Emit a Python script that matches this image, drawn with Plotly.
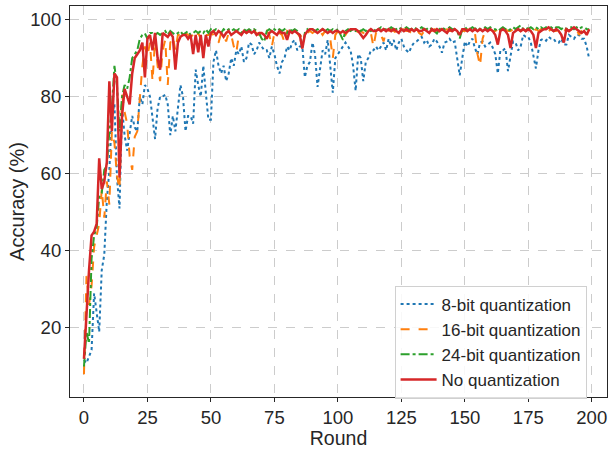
import plotly.graph_objects as go

rounds = list(range(200))

acc_8bit = [
    11.7, 10.9, 12.6, 14.3, 29, 24, 19, 35, 39, 53,
    61, 75, 78, 59, 51, 77, 70, 66, 71, 75,
    72, 71, 80, 78, 83, 82, 80, 75, 69, 77,
    80, 80, 80.5, 78, 70, 75, 71, 77, 83, 80,
    71, 75, 75, 73, 87, 83, 80, 88, 81, 74,
    74, 89, 92, 88, 86, 88, 84, 86, 90, 88,
    92, 91, 93, 89, 90, 94, 93.5, 91, 92, 94,
    93, 92, 92, 90, 93, 91, 88, 86, 89, 90,
    93, 92, 94, 94.7, 92, 93, 93, 85, 88, 89,
    94, 91, 82.5, 88, 92, 91, 94.7, 88, 81, 90,
    91, 92, 93, 94, 93, 92, 88, 81.5, 91, 90,
    84, 89, 90, 92, 92, 93, 92, 93, 94, 92,
    95, 93, 94.7, 92, 94, 95, 93, 92, 91.4, 93,
    94, 94.3, 95, 95.5, 94, 94.7, 93, 93.5, 95, 94.3,
    93, 91.4, 94, 94.3, 95, 94, 94.3, 90, 85.5, 90,
    94.3, 93, 94.3, 95, 92.5, 91, 94, 94.3, 93, 93.5,
    94, 92.7, 91, 86, 92, 92, 92.5, 86.6, 90, 94.3,
    94, 92, 93, 96, 95.5, 95.5, 94, 90.5, 87.3, 92,
    94.7, 95, 94.5, 95.5, 95, 95, 94, 94, 95, 93.5,
    93.5, 96, 95.5, 95, 96, 96, 95, 95, 93, 89.7,
]

acc_16bit = [
    8, 33.5, 26, 31, 41, 44, 47, 56, 48.6, 58,
    52, 71, 68, 59.5, 56, 80.5, 76, 73, 64.5, 61,
    69.6, 71, 79.6, 88, 93, 90.5, 94, 84, 94.7, 88,
    84, 92, 94.7, 83, 94, 95.5, 92, 96, 96, 95.5,
    96.5, 96, 95.5, 96, 95, 96.5, 95, 96.5, 96, 96,
    96.5, 96, 95, 94, 96.5, 96, 94.3, 96.5, 96, 93,
    91.4, 96, 96.5, 97, 96.5, 97, 96, 97, 96.5, 96,
    96.5, 96, 97, 96, 93, 96.5, 97, 96.5, 96, 94,
    97, 96.5, 96, 97, 96.5, 95.5, 96, 97, 96.5, 97,
    96.5, 97, 96.5, 97, 96, 97, 96.5, 95, 90, 96,
    97, 96.5, 97, 96, 97, 97.5, 97, 96.5, 97, 97,
    96.5, 97, 97, 96.5, 93, 96.5, 97, 96, 94.3, 97,
    97, 97.5, 97, 96.5, 97, 97, 97.5, 97, 97, 96.5,
    97, 97.5, 96.5, 96, 97, 97.5, 97, 97, 97.5, 97,
    97.5, 97, 97, 97.5, 97, 97, 97.5, 97, 96.5, 97,
    97, 97.5, 97, 97, 96.5, 91, 88, 95, 97, 97,
    97.5, 97, 97, 97.5, 97, 97, 97.5, 97, 97, 97.5,
    97, 97.5, 97, 97.5, 97, 97.5, 97, 97, 97.5, 97,
    97.5, 97, 97.5, 97, 97.5, 97, 97, 97.5, 97, 97,
    97.5, 97, 97.5, 97, 97.5, 96, 97, 97.5, 97, 96.5,
]

acc_24bit = [
    10, 19, 16, 38, 44, 46, 54, 55, 61, 62,
    71, 77, 88, 83, 71, 80, 83, 82, 85, 90,
    91, 92, 95, 96, 96.4, 95, 96.5, 96.5, 96, 96.5,
    96, 96.5, 97, 96, 97, 96.5, 96, 96.5, 97, 96,
    96.5, 97, 96, 96.5, 97, 96.5, 97, 96.5, 97.5, 96.5,
    97.5, 97, 97.5, 97, 96.5, 97.5, 97, 97.5, 97, 97.5,
    97, 97.5, 96.5, 97.5, 97, 97.5, 97, 97.5, 97, 96.5,
    95, 94.3, 97, 97.5, 97, 97.5, 97, 97.5, 97, 97.5,
    96.5, 97.5, 97, 97.5, 97, 96, 92.3, 96.5, 97.5, 97,
    97.5, 97, 97.5, 97, 97.5, 97, 97.5, 97, 97.5, 97,
    97.5, 96, 94.7, 97, 97.5, 97, 97.5, 97, 97.5, 97,
    97.5, 97, 97.5, 97, 97.5, 97, 97.5, 98, 97.5, 97.5,
    97.5, 98, 97.5, 97.5, 98, 97.5, 97.5, 98, 97.5, 97.5,
    98, 97.5, 97.5, 98, 97.5, 97.5, 98, 97.5, 97, 96.4,
    97.5, 98, 97.5, 97.5, 98, 97.5, 97.5, 97, 95.1, 97.5,
    97.5, 98, 97.5, 98, 97.5, 98, 97.5, 97.5, 98, 97.5,
    98, 97.5, 97.5, 97, 97.5, 98, 97.5, 97, 97.5, 98,
    97.5, 98, 98.5, 97.5, 98, 97.5, 98, 97.5, 98, 97.5,
    98, 97.5, 98, 97.5, 98, 97.5, 98, 98, 97.5, 98,
    97.5, 98, 98, 97.5, 98, 97.5, 98, 98, 97.5, 97.5,
]

acc_noq = [
    12, 25, 35, 44, 45, 47, 64, 56, 58, 63,
    84, 71, 86, 85, 59, 75, 82, 80, 78, 86,
    90, 91, 92, 94, 85, 95, 96, 92, 96.5, 90,
    87, 96.5, 96, 95.5, 96.5, 95.5, 87, 94, 95.5, 96,
    96, 95, 96, 91, 96, 91.5, 96, 90, 96, 93,
    96.5, 97, 96, 97, 96.5, 95.5, 96.5, 97, 96, 96.5,
    97, 96.5, 96, 97, 96.5, 97, 96.5, 97, 96, 96.5,
    96.5, 96, 95, 96.5, 97, 96.5, 96, 97, 96.5, 96.5,
    94.7, 97, 96.5, 97, 96.5, 96, 92.5, 96, 97, 97.5,
    97.5, 97, 96.5, 97, 97.5, 97, 96.5, 97, 96.5, 97,
    97, 96.5, 97, 96.5, 97, 97.5, 97.5, 97.5, 97, 96,
    95.2, 96, 97, 97.5, 97, 97, 97.5, 97, 97.5, 97,
    97.5, 97, 97.5, 97, 96.5, 97.5, 97, 97.5, 97, 97.5,
    97, 97.5, 97, 97, 97.5, 97, 96.5, 97.5, 97, 97.5,
    97, 97.5, 97, 96.5, 97.5, 97, 97.5, 97, 96, 97.5,
    97.5, 97, 97.5, 97, 97.5, 97, 97.5, 97, 97.5, 97,
    97.5, 97, 96, 93.5, 97, 97.5, 97, 96, 92.6, 96.5,
    97, 97.5, 97, 97.5, 97, 97.5, 97, 96, 92.6, 96.5,
    97, 97.5, 97.5, 98, 97.5, 97, 97.5, 97, 96, 94,
    97.5, 97, 97.5, 98, 97.5, 97, 96.5, 97, 96, 97.5,
]

series_names = ["8-bit quantization", "16-bit quantization", "24-bit quantization", "No quantization"]
series_values = [acc_8bit, acc_16bit, acc_24bit, acc_noq]
colors = ["#1f77b4", "#ff7f0e", "#2ca02c", "#d62728"]
dashes = ["dot", "dash", "dashdot", "solid"]
widths = [2, 2, 2, 2.5]

x_ticks = [0, 25, 50, 75, 100, 125, 150, 175, 200]
y_ticks = [20, 40, 60, 80, 100]

fig = go.Figure()
for name, vals, c, d, w in zip(series_names, series_values, colors, dashes, widths):
    fig.add_trace(go.Scatter(x=rounds, y=vals, mode="lines", name=name,
                             line=dict(color=c, dash=d, width=w)))

FONT = "Liberation Sans, Arial, sans-serif"
axis_common = dict(
    showline=True, linecolor="#262626", linewidth=1.2, mirror=True,
    ticks="outside", ticklen=4, tickcolor="#262626", tickwidth=1,
    showgrid=True, gridcolor="#cccccc", griddash="dash", gridwidth=1,
    zeroline=False, tickfont=dict(size=18.5, color="#262626", family=FONT),
)

fig.update_layout(
    width=614, height=449,
    margin=dict(l=70, r=7, t=5, b=41),
    paper_bgcolor="white", plot_bgcolor="white",
    font=dict(family=FONT, color="#262626"),
    xaxis=dict(range=[-5.5, 206], tickvals=x_ticks,
               title=dict(text="Round", font=dict(size=19.5, family=FONT), standoff=2),
               **axis_common),
    yaxis=dict(range=[2.1, 103.5], tickvals=y_ticks,
               title=dict(text="Accuracy (%)", font=dict(size=20, family=FONT), standoff=0),
               **axis_common),
    legend=dict(x=0.962, y=-0.004, xanchor="right", yanchor="bottom",
                bgcolor="rgba(255,255,255,0.85)", bordercolor="#d0d0d0", borderwidth=1,
                font=dict(size=17, family=FONT, color="#262626"),
                tracegroupgap=0, itemwidth=36),
    showlegend=True,
)

fig.write_html("out.html", config={"displayModeBar": False},
               post_script="document.body.style.margin='0';document.body.style.overflow='hidden';")
